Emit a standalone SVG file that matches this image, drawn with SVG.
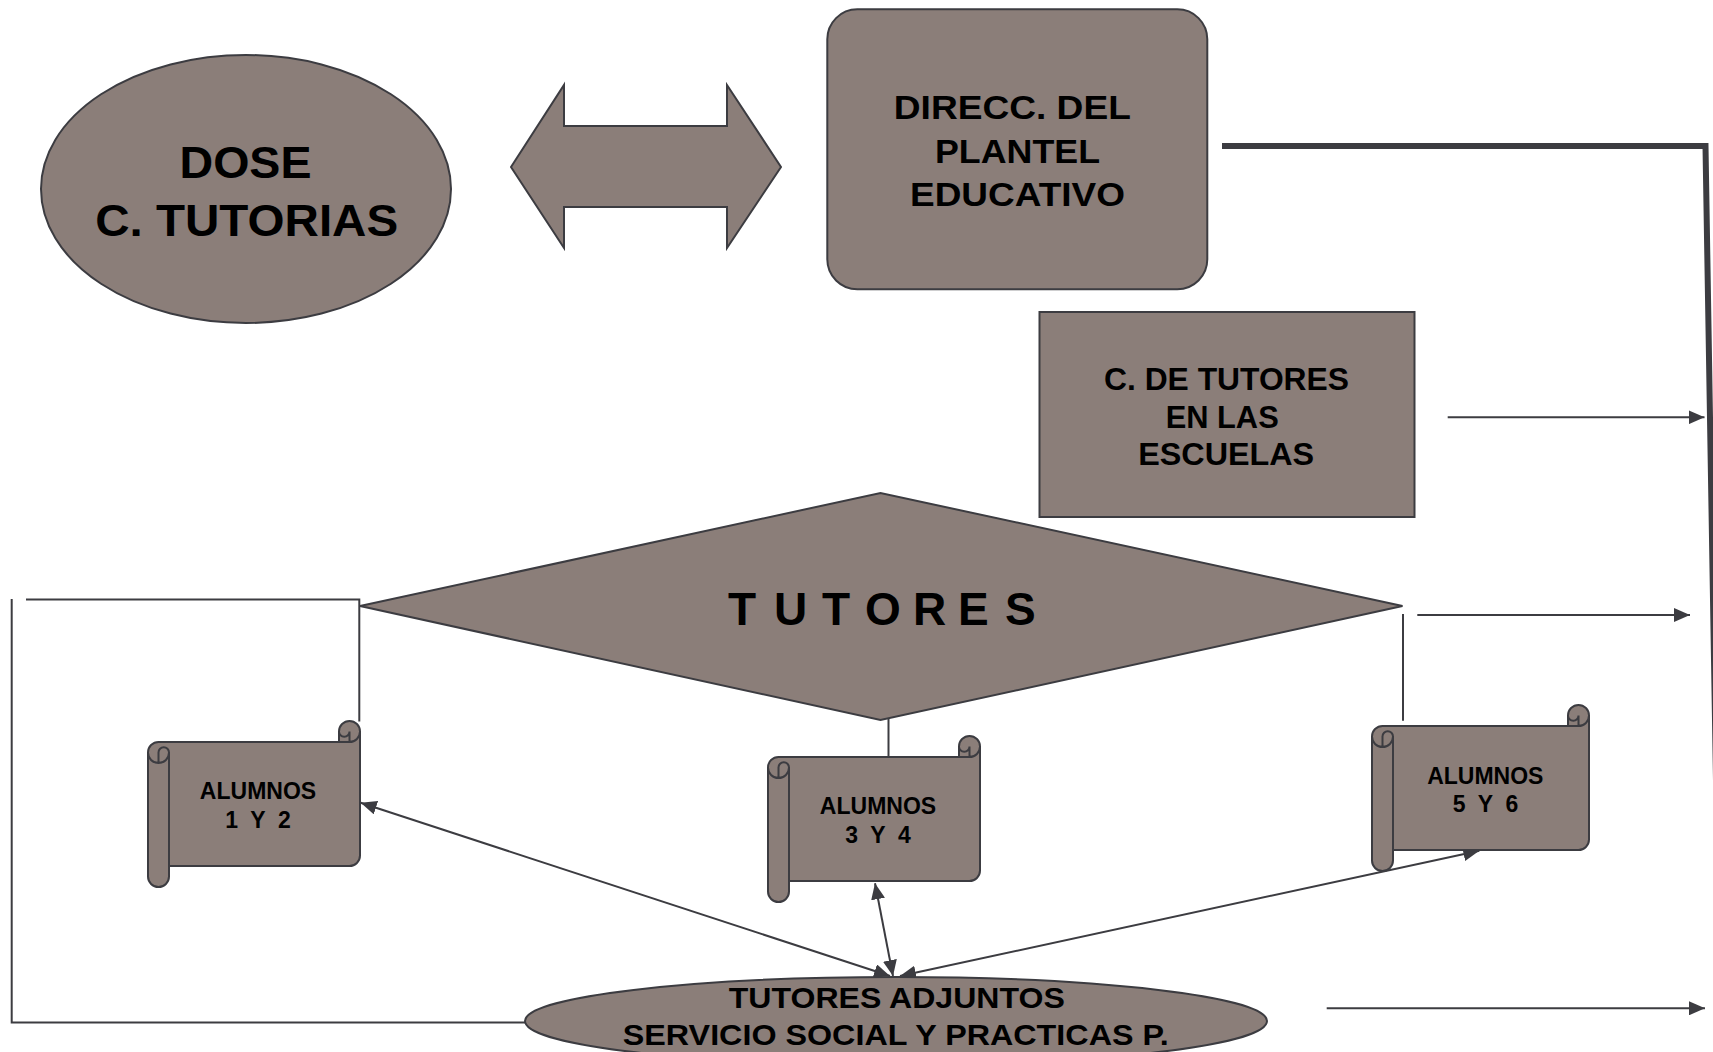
<svg xmlns="http://www.w3.org/2000/svg" width="1713" height="1052" viewBox="0 0 1713 1052">
<style>
.n{fill:#8b7e79;stroke:#3c3c41;stroke-width:2}
.d{fill:none;stroke:#3c3c41;stroke-width:2}
.c{fill:none;stroke:#3c3c41;stroke-width:2}
.t{font-family:"Liberation Sans",Arial,sans-serif;font-weight:bold;fill:#000;text-anchor:middle}
</style>
<defs>
<marker id="ah" viewBox="0 0 16 14" refX="16" refY="7" markerWidth="16" markerHeight="14" markerUnits="userSpaceOnUse" orient="auto-start-reverse"><path d="M0,0 L16,7 L0,14 z" fill="#3c3c41"/></marker>
</defs>
<rect width="1713" height="1052" fill="#fff"/>
<g id="connectors">
<path class="c" d="M26,599.5 H359.3 V721.5"/>
<path class="c" d="M11.7,599 V1022.5 H526"/>
<path d="M1222,146 H1705.5 L1720.5,1052" fill="none" stroke="#3c3c41" stroke-width="6"/>
<path class="c" d="M1447.7,417.3 H1704.5" marker-end="url(#ah)"/>
<path class="c" d="M1417.3,615 H1690" marker-end="url(#ah)"/>
<path class="c" d="M1326.7,1008.3 H1705" marker-end="url(#ah)"/>
<path class="c" d="M888.5,719 V767"/>
<path class="c" d="M1403,614 V720.7"/>
<path class="c" d="M360.7,802.7 L890,976" marker-start="url(#ah)" marker-end="url(#ah)"/>
<path class="c" d="M875,883.3 L893,976" marker-start="url(#ah)" marker-end="url(#ah)"/>
<path class="c" d="M900,976 L1479.3,850.7" marker-start="url(#ah)" marker-end="url(#ah)"/>
</g>
<g id="dose">
<ellipse class="n" cx="246" cy="189" rx="205" ry="134"/>
<text class="t" font-size="44" x="245.5" y="178.3" textLength="132" lengthAdjust="spacingAndGlyphs">DOSE</text>
<text class="t" font-size="44" x="246.7" y="236" textLength="303" lengthAdjust="spacingAndGlyphs">C. TUTORIAS</text>
</g>
<g id="double-arrow">
<polygon class="n" points="511,167 564,85 564,126 727,126 727,85 781,167 727,248 727,207 564,207 564,248"/>
</g>
<g id="direcc">
<rect class="n" x="827.3" y="9.3" width="380" height="280" rx="30" ry="30"/>
<text class="t" font-size="33" x="1012.3" y="119" textLength="237" lengthAdjust="spacingAndGlyphs">DIRECC. DEL</text>
<text class="t" font-size="33" x="1017.5" y="163" textLength="165" lengthAdjust="spacingAndGlyphs">PLANTEL</text>
<text class="t" font-size="33" x="1017.5" y="206" textLength="215" lengthAdjust="spacingAndGlyphs">EDUCATIVO</text>
</g>
<g id="c-tutores">
<rect class="n" x="1039.5" y="312" width="375" height="205"/>
<text class="t" font-size="31" x="1226.5" y="389.5" textLength="245" lengthAdjust="spacingAndGlyphs">C. DE TUTORES</text>
<text class="t" font-size="31" x="1222.2" y="428" textLength="113" lengthAdjust="spacingAndGlyphs">EN LAS</text>
<text class="t" font-size="31" x="1226.2" y="465" textLength="176" lengthAdjust="spacingAndGlyphs">ESCUELAS</text>
</g>
<g id="tutores">
<polygon class="n" points="360,606 880.5,493 1402.5,606 880.5,720"/>
<text class="t" font-size="46" style="text-anchor:start" x="728 774 822 865 913 958 1005" y="625">TUTORES</text>
</g>
<g id="alumnos-1-2" transform="translate(148,721)">
<path class="n" d="M0,31.5 A10.5,10.5 0 0 1 10.5,21 L191,21 L191,10.5 A10.5,10.5 0 0 1 212,10.5 L212,134.5 A10.5,10.5 0 0 1 201.5,145 L21,145 L21,155.5 A10.5,10.5 0 0 1 0,155.5 Z"/>
<path class="d" d="M191,21 L201.5,21 A10.5,10.5 0 0 0 212,10.5 M201.5,21 L201.5,10.5 A5.25,5.25 0 0 1 191,10.5 M10.5,42 L10.5,31.5 A5.25,5.25 0 0 1 21,31.5 A10.5,10.5 0 0 1 0,31.5 M21,31.5 L21,145"/>
<text class="t" font-size="23" x="110" y="78">ALUMNOS</text>
<text class="t" font-size="23" x="110" y="107.3" xml:space="preserve">1  Y  2</text>
</g>
<g id="alumnos-3-4" transform="translate(768,736)">
<path class="n" d="M0,31.5 A10.5,10.5 0 0 1 10.5,21 L191,21 L191,10.5 A10.5,10.5 0 0 1 212,10.5 L212,134.5 A10.5,10.5 0 0 1 201.5,145 L21,145 L21,155.5 A10.5,10.5 0 0 1 0,155.5 Z"/>
<path class="d" d="M191,21 L201.5,21 A10.5,10.5 0 0 0 212,10.5 M201.5,21 L201.5,10.5 A5.25,5.25 0 0 1 191,10.5 M10.5,42 L10.5,31.5 A5.25,5.25 0 0 1 21,31.5 A10.5,10.5 0 0 1 0,31.5 M21,31.5 L21,145"/>
<text class="t" font-size="23" x="110" y="78">ALUMNOS</text>
<text class="t" font-size="23" x="110" y="107.3" xml:space="preserve">3  Y  4</text>
</g>
<g id="alumnos-5-6" transform="translate(1372,705)">
<path class="n" d="M0,31.5 A10.5,10.5 0 0 1 10.5,21 L196,21 L196,10.5 A10.5,10.5 0 0 1 217,10.5 L217,134.5 A10.5,10.5 0 0 1 206.5,145 L21,145 L21,155.5 A10.5,10.5 0 0 1 0,155.5 Z"/>
<path class="d" d="M196,21 L206.5,21 A10.5,10.5 0 0 0 217,10.5 M206.5,21 L206.5,10.5 A5.25,5.25 0 0 1 196,10.5 M10.5,42 L10.5,31.5 A5.25,5.25 0 0 1 21,31.5 A10.5,10.5 0 0 1 0,31.5 M21,31.5 L21,145"/>
<text class="t" font-size="23" x="113.3" y="79">ALUMNOS</text>
<text class="t" font-size="23" x="113.5" y="107.3" xml:space="preserve">5  Y  6</text>
</g>
<g id="tutores-adjuntos">
<ellipse class="n" cx="896" cy="1021" rx="371" ry="44"/>
<text class="t" font-size="30" x="896.8" y="1008" textLength="336" lengthAdjust="spacingAndGlyphs">TUTORES ADJUNTOS</text>
<text class="t" font-size="30" x="895.8" y="1044.5" textLength="546" lengthAdjust="spacingAndGlyphs">SERVICIO SOCIAL Y PRACTICAS P.</text>
</g>
</svg>
